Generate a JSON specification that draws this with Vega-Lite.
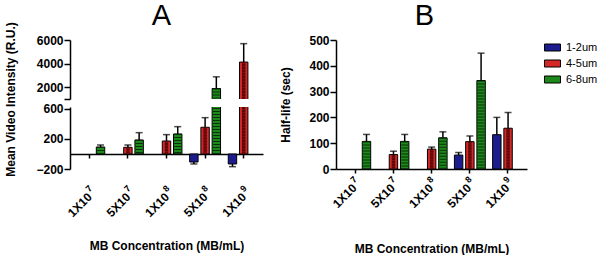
{
  "$schema": "https://vega.github.io/schema/vega-lite/v6.json",
  "padding": {"left": 4, "top": 2, "right": 2, "bottom": 0},
  "background": "white",
  "datasets": {
    "A": [
      {"conc": "1X10⁷", "size": "6-8um", "value": 93, "errEnd": 120},
      {"conc": "5X10⁷", "size": "4-5um", "value": 89, "errEnd": 120},
      {"conc": "5X10⁷", "size": "6-8um", "value": 187, "errEnd": 284},
      {"conc": "1X10⁸", "size": "4-5um", "value": 173, "errEnd": 258},
      {"conc": "1X10⁸", "size": "6-8um", "value": 267, "errEnd": 364},
      {"conc": "5X10⁸", "size": "1-2um", "value": -107, "errEnd": -133},
      {"conc": "5X10⁸", "size": "4-5um", "value": 356, "errEnd": 484},
      {"conc": "5X10⁸", "size": "6-8um", "value": 1890, "errEnd": 2880},
      {"conc": "1X10⁹", "size": "1-2um", "value": -133, "errEnd": -169},
      {"conc": "1X10⁹", "size": "4-5um", "value": 4130, "errEnd": 5690}
    ],
    "B": [
      {"conc": "1X10⁷", "size": "6-8um", "value": 107, "errEnd": 134},
      {"conc": "5X10⁷", "size": "4-5um", "value": 56, "errEnd": 69},
      {"conc": "5X10⁷", "size": "6-8um", "value": 107, "errEnd": 134},
      {"conc": "1X10⁸", "size": "4-5um", "value": 77, "errEnd": 85},
      {"conc": "1X10⁸", "size": "6-8um", "value": 121, "errEnd": 144},
      {"conc": "5X10⁸", "size": "1-2um", "value": 54, "errEnd": 64},
      {"conc": "5X10⁸", "size": "4-5um", "value": 106, "errEnd": 128},
      {"conc": "5X10⁸", "size": "6-8um", "value": 343, "errEnd": 449},
      {"conc": "1X10⁹", "size": "1-2um", "value": 133, "errEnd": 200},
      {"conc": "1X10⁹", "size": "4-5um", "value": 158, "errEnd": 219}
    ]
  },
  "config": {
    "view": {"stroke": null},
    "font": "Liberation Sans",
    "axis": {
      "labelFont": "Liberation Sans", "labelFontWeight": "bold", "labelFontSize": 12, "labelColor": "black",
      "titleFont": "Liberation Sans", "titleFontWeight": "bold", "titleFontSize": 12, "titleColor": "black",
      "domainColor": "black", "domainWidth": 1.5, "tickColor": "black", "tickWidth": 1.5, "grid": false, "labelOverlap": false, "labelBound": false, "labelFlush": false
    },
    "axisY": {"tickSize": 6, "labelPadding": 1, "titlePadding": 18},
    "axisX": {"tickSize": 4},
    "title": {"font": "Liberation Sans", "fontSize": 29, "fontWeight": "normal", "color": "black", "frame": "group", "anchor": "middle"}
  },
  "resolve": {"scale": {"color": "independent"}, "legend": {"color": "independent"}},
  "spacing": 16,
  "hconcat": [
    {
      "spacing": 8,
      "bounds": "flush",
      "vconcat": [
        {
          "title": {"text": "A", "dx": -5, "offset": 3},
          "width": 193, "height": 59,
          "data": {"name": "A"},
          "encoding": {
            "x": {"field": "conc", "type": "nominal", "sort": ["1X10⁷", "5X10⁷", "1X10⁸", "5X10⁸", "1X10⁹"], "scale": {"paddingInner": 0.2, "paddingOuter": 0.1}, "axis": null},
            "xOffset": {"field": "size", "type": "nominal", "scale": {"domain": ["1-2um", "4-5um", "6-8um"], "paddingInner": 0.25}},
            "y": {"field": "value", "type": "quantitative", "scale": {"domain": [1000, 6000]}, "axis": {"values": [1000, 2000, 4000, 6000], "format": "d", "labelExpr": "datum.value == 1000 ? '' : datum.label", "title": null, "labelOverlap": false}}
          },
          "layer": [
            {
              "mark": {"type": "bar", "stroke": "black", "strokeWidth": 1, "clip": true},
              "encoding": {
                "y2": {"datum": 0},
                "color": {"field": "size", "type": "nominal", "scale": {"domain": ["1-2um", "4-5um", "6-8um"], "range": ["#1c1c8e", "#d42828", "#1b8a1b"]}, "legend": null}
              }
            },
            {
              "transform": [{"filter": "datum.size == '6-8um'"}],
              "mark": {"type": "rule", "strokeWidth": 7, "strokeDash": [1, 2], "color": "#0b300b", "clip": true},
              "encoding": {"y2": {"datum": 0}}
            },
            {
              "transform": [{"filter": "datum.size == '4-5um'"}],
              "mark": {"type": "rule", "strokeWidth": 3.5, "xOffset": -1.75, "strokeDash": [1.5, 1.5], "color": "#5a0808", "clip": true},
              "encoding": {"y2": {"datum": 0}}
            },
            {
              "transform": [{"filter": "datum.size == '4-5um'"}],
              "mark": {"type": "rule", "strokeWidth": 3.5, "xOffset": 1.75, "strokeDash": [1.5, 1.5], "strokeDashOffset": 1.5, "color": "#5a0808", "clip": true},
              "encoding": {"y2": {"datum": 0}}
            },
            {
              "mark": {"type": "rule", "strokeWidth": 1.5, "color": "black", "clip": true},
              "encoding": {"y2": {"field": "errEnd"}}
            },
            {
              "mark": {"type": "tick", "orient": "horizontal", "size": 7, "thickness": 1.5, "color": "black", "clip": true},
              "encoding": {"y": {"field": "errEnd", "type": "quantitative", "scale": {"domain": [1000, 6000]}, "axis": {"values": [1000, 2000, 4000, 6000], "format": "d", "labelExpr": "datum.value == 1000 ? '' : datum.label", "title": null, "labelOverlap": false}}}
            }
          ]
        },
        {
          "width": 193, "height": 62,
          "data": {"name": "A"},
          "resolve": {"axis": {"x": "independent"}},
          "encoding": {
            "x": {"field": "conc", "type": "nominal", "sort": ["1X10⁷", "5X10⁷", "1X10⁸", "5X10⁸", "1X10⁹"], "scale": {"paddingInner": 0.2, "paddingOuter": 0.1}, "axis": null},
            "xOffset": {"field": "size", "type": "nominal", "scale": {"domain": ["1-2um", "4-5um", "6-8um"], "paddingInner": 0.25}},
            "y": {"field": "value", "type": "quantitative", "scale": {"domain": [-200, 626]}, "axis": {"values": [-200, 200, 600], "format": "d", "title": "Mean Video Intensity (R.U.)", "titleY": -8, "labelOverlap": false}}
          },
          "layer": [
            {
              "mark": {"type": "bar", "stroke": "black", "strokeWidth": 1, "clip": true},
              "encoding": {
                "x": {"field": "conc", "type": "nominal", "sort": ["1X10⁷", "5X10⁷", "1X10⁸", "5X10⁸", "1X10⁹"], "scale": {"paddingInner": 0.2, "paddingOuter": 0.1},
                      "axis": {"orient": "bottom", "offset": -15, "labelAngle": -45, "labelPadding": 33, "labelOffset": -3,
                               "labelExpr": "replace(replace(replace(datum.label, '⁷', ''), '⁸', ''), '⁹', '')", "title": "MB Concentration (MB/mL)", "titlePadding": 22}},
                "y2": {"datum": 0},
                "color": {"field": "size", "type": "nominal", "scale": {"domain": ["1-2um", "4-5um", "6-8um"], "range": ["#1c1c8e", "#d42828", "#1b8a1b"]}, "legend": null}
              }
            },
            {
              "transform": [{"filter": "datum.size == '6-8um'"}],
              "mark": {"type": "rule", "strokeWidth": 7, "strokeDash": [1, 2], "color": "#0b300b", "clip": true},
              "encoding": {"y2": {"datum": 0}}
            },
            {
              "transform": [{"filter": "datum.size == '4-5um'"}],
              "mark": {"type": "rule", "strokeWidth": 3.5, "xOffset": -1.75, "strokeDash": [1.5, 1.5], "color": "#5a0808", "clip": true},
              "encoding": {"y2": {"datum": 0}}
            },
            {
              "transform": [{"filter": "datum.size == '4-5um'"}],
              "mark": {"type": "rule", "strokeWidth": 3.5, "xOffset": 1.75, "strokeDash": [1.5, 1.5], "strokeDashOffset": 1.5, "color": "#5a0808", "clip": true},
              "encoding": {"y2": {"datum": 0}}
            },
            {
              "mark": {"type": "rule", "strokeWidth": 1.5, "color": "black", "clip": true},
              "encoding": {
                "x": {"field": "conc", "type": "nominal", "sort": ["1X10⁷", "5X10⁷", "1X10⁸", "5X10⁸", "1X10⁹"], "scale": {"paddingInner": 0.2, "paddingOuter": 0.1},
                      "axis": {"orient": "bottom", "offset": -15, "domain": false, "tickColor": "transparent", "labelAngle": -45, "labelAlign": "left", "labelPadding": 29, "labelOffset": -5, "labelFontSize": 9,
                               "labelExpr": "slice(datum.label, -1) == '⁷' ? '7' : slice(datum.label, -1) == '⁸' ? '8' : '9'", "title": null}},
                "y2": {"field": "errEnd"}
              }
            },
            {
              "mark": {"type": "tick", "orient": "horizontal", "size": 7, "thickness": 1.5, "color": "black", "clip": true},
              "encoding": {"y": {"field": "errEnd", "type": "quantitative", "scale": {"domain": [-200, 626]}, "axis": {"values": [-200, 200, 600], "format": "d", "title": "Mean Video Intensity (R.U.)", "titleY": -8, "labelOverlap": false}}}
            }
          ]
        }
      ]
    },
    {
      "title": {"text": "B", "dx": -7, "offset": 3},
      "width": 191, "height": 129,
      "data": {"name": "B"},
      "resolve": {"axis": {"x": "independent"}},
      "encoding": {
        "x": {"field": "conc", "type": "nominal", "sort": ["1X10⁷", "5X10⁷", "1X10⁸", "5X10⁸", "1X10⁹"], "scale": {"paddingInner": 0.2, "paddingOuter": 0.1}, "axis": null},
        "xOffset": {"field": "size", "type": "nominal", "scale": {"domain": ["1-2um", "4-5um", "6-8um"], "paddingInner": 0.25}},
        "y": {"field": "value", "type": "quantitative", "scale": {"domain": [0, 500]}, "axis": {"values": [0, 100, 200, 300, 400, 500], "title": "Half-life (sec)", "titlePadding": 16, "labelOverlap": false}}
      },
      "layer": [
        {
          "mark": {"type": "bar", "stroke": "black", "strokeWidth": 1},
          "encoding": {
            "x": {"field": "conc", "type": "nominal", "sort": ["1X10⁷", "5X10⁷", "1X10⁸", "5X10⁸", "1X10⁹"], "scale": {"paddingInner": 0.2, "paddingOuter": 0.1},
                  "axis": {"orient": "bottom", "labelAngle": -45, "labelPadding": 9, "labelOffset": -4,
                           "labelExpr": "replace(replace(replace(datum.label, '⁷', ''), '⁸', ''), '⁹', '')", "title": "MB Concentration (MB/mL)", "titlePadding": 34}},
            "y2": {"datum": 0},
            "color": {"field": "size", "type": "nominal", "scale": {"domain": ["1-2um", "4-5um", "6-8um"], "range": ["#1c1c8e", "#d42828", "#1b8a1b"]},
                      "legend": {"title": null, "offset": 18, "symbolType": "M-1.6,-0.7H1.6V0.7H-1.6Z", "symbolSize": 100, "symbolStrokeColor": "black", "symbolStrokeWidth": 1, "symbolOpacity": 1, "labelFont": "Liberation Sans", "labelFontSize": 11, "labelColor": "black", "labelOffset": 8, "rowPadding": 4, "padding": 2}}
          }
        },
        {
          "transform": [{"filter": "datum.size == '6-8um'"}],
          "mark": {"type": "rule", "strokeWidth": 7, "strokeDash": [1, 2], "color": "#0b300b"},
          "encoding": {"y2": {"datum": 0}}
        },
        {
          "transform": [{"filter": "datum.size == '4-5um'"}],
          "mark": {"type": "rule", "strokeWidth": 3.5, "xOffset": -1.75, "strokeDash": [1.5, 1.5], "color": "#5a0808"},
          "encoding": {"y2": {"datum": 0}}
        },
        {
          "transform": [{"filter": "datum.size == '4-5um'"}],
          "mark": {"type": "rule", "strokeWidth": 3.5, "xOffset": 1.75, "strokeDash": [1.5, 1.5], "strokeDashOffset": 1.5, "color": "#5a0808"},
          "encoding": {"y2": {"datum": 0}}
        },
        {
          "mark": {"type": "rule", "strokeWidth": 1.5, "color": "black"},
          "encoding": {
            "x": {"field": "conc", "type": "nominal", "sort": ["1X10⁷", "5X10⁷", "1X10⁸", "5X10⁸", "1X10⁹"], "scale": {"paddingInner": 0.2, "paddingOuter": 0.1},
                  "axis": {"orient": "bottom", "domain": false, "tickColor": "transparent", "labelAngle": -45, "labelAlign": "left", "labelPadding": 5, "labelOffset": -6, "labelFontSize": 9,
                           "labelExpr": "slice(datum.label, -1) == '⁷' ? '7' : slice(datum.label, -1) == '⁸' ? '8' : '9'", "title": null}},
            "y2": {"field": "errEnd"}
          }
        },
        {
          "mark": {"type": "tick", "orient": "horizontal", "size": 7, "thickness": 1.5, "color": "black"},
          "encoding": {"y": {"field": "errEnd", "type": "quantitative", "scale": {"domain": [0, 500]}, "axis": {"values": [0, 100, 200, 300, 400, 500], "title": "Half-life (sec)", "titlePadding": 16, "labelOverlap": false}}}
        }
      ]
    }
  ]
}
